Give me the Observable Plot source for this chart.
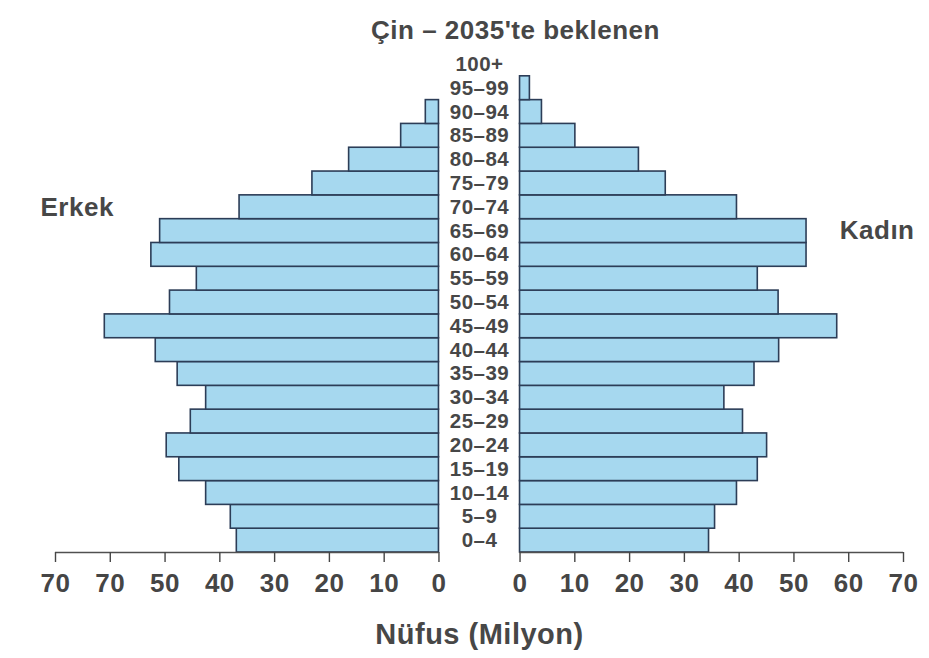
<!DOCTYPE html>
<html>
<head>
<meta charset="utf-8">
<script src="https://cdn.jsdelivr.net/npm/d3@7"></script>
<script src="https://cdn.jsdelivr.net/npm/@observablehq/plot@0.6"></script>
<style>
  body { margin: 0; background: #fff; }
  #chart svg text { letter-spacing: 0.5px; }
</style>
</head>
<body>
<div id="chart"></div>
<script>
// ---- Data ----
const ages = ["0–4","5–9","10–14","15–19","20–24","25–29","30–34","35–39","40–44","45–49",
              "50–54","55–59","60–64","65–69","70–74","75–79","80–84","85–89","90–94","95–99","100+"];
const male   = [36.9, 38.0, 42.5, 47.4, 49.7, 45.3, 42.5, 47.7, 51.7, 61.0,
                49.1, 44.2, 52.5, 50.9, 36.4, 23.1, 16.4, 6.9, 2.4, 0, 0];
const female = [34.5, 35.6, 39.6, 43.4, 45.1, 40.7, 37.3, 42.8, 47.3, 57.9,
                47.2, 43.4, 52.3, 52.3, 39.6, 26.6, 21.7, 10.1, 4.0, 1.8, 0];
const tickValues      = [0, 10, 20, 30, 40, 50, 60, 70];
const leftTickLabels  = ["0", "10", "20", "30", "40", "50", "70", "70"]; // as printed
const rightTickLabels = ["0", "10", "20", "30", "40", "50", "60", "70"];
const title = "Çin – 2035'te beklenen";
const xLabel = "Nüfus (Milyon)";
const maleLabel = "Erkek";
const femaleLabel = "Kadın";

// ---- Layout helpers ----
const gap = 7.4;                 // half-gap (in value units) for the central age labels
const xMax = 70 + gap;
const rows = ages.map((age, i) => ({age, i, male: male[i], female: female[i]}));
const ticks = [
  ...tickValues.map((v, k) => ({pos: -(v + gap), label: leftTickLabels[k]})),
  ...tickValues.map((v, k) => ({pos: v + gap, label: rightTickLabels[k]}))
];
const labelOf = new Map(ticks.map(t => [t.pos, t.label]));

const fill = "#a6d8ef";
const stroke = "#2c3d57";
const textColor = "#474747";
const font = "'Liberation Sans', Arial, sans-serif";

const chart = Plot.plot({
  width: 929,
  height: 658,
  marginLeft: 55,
  marginRight: 26,
  marginTop: 52,
  marginBottom: 106,
  style: {fontFamily: font, color: "#454545", background: "#fff"},
  x: {domain: [-xMax, xMax], axis: null},
  y: {domain: [0, ages.length], axis: null},
  marks: [
    Plot.rect(rows.filter(d => d.male > 0), {
      x1: -gap, x2: d => -(gap + d.male), y1: d => d.i, y2: d => d.i + 1,
      fill, stroke, strokeWidth: 1.6
    }),
    Plot.rect(rows.filter(d => d.female > 0), {
      x1: gap, x2: d => gap + d.female, y1: d => d.i, y2: d => d.i + 1,
      fill, stroke, strokeWidth: 1.6
    }),
    Plot.ruleY([0], {x1: -gap, x2: -xMax, stroke: "#505050", strokeWidth: 1.6}),
    Plot.ruleY([0], {x1: gap, x2: xMax, stroke: "#505050", strokeWidth: 1.6}),
    Plot.axisX(ticks.map(t => t.pos), {
      tickSize: 10, tickPadding: 11, tickFormat: d => labelOf.get(d),
      fontSize: 26, fontWeight: "bold", label: null, strokeWidth: 1.4
    }),
    Plot.text(rows, {
      x: 0, y: d => d.i + 0.5, text: "age",
      fontSize: 20.5, fontWeight: "bold", fill: textColor
    }),
    Plot.text([title], {frameAnchor: "top", lineAnchor: "middle", dy: -22, dx: 36,
      fontSize: 26, fontWeight: "bold", fill: textColor}),
    Plot.text([xLabel], {frameAnchor: "bottom", lineAnchor: "middle", dy: 82,
      fontSize: 29, fontWeight: "bold", fill: textColor}),
    Plot.text([maleLabel], {
      x: -xMax, y: ages.indexOf("70–74") + 0.5, textAnchor: "start", dx: -15,
      fontSize: 26, fontWeight: "bold", fill: textColor
    }),
    Plot.text([femaleLabel], {
      x: xMax, y: ages.indexOf("65–69") + 0.5, textAnchor: "end", dx: 11,
      fontSize: 26, fontWeight: "bold", fill: textColor
    })
  ]
});
document.getElementById("chart").append(chart);
</script>
</body>
</html>
